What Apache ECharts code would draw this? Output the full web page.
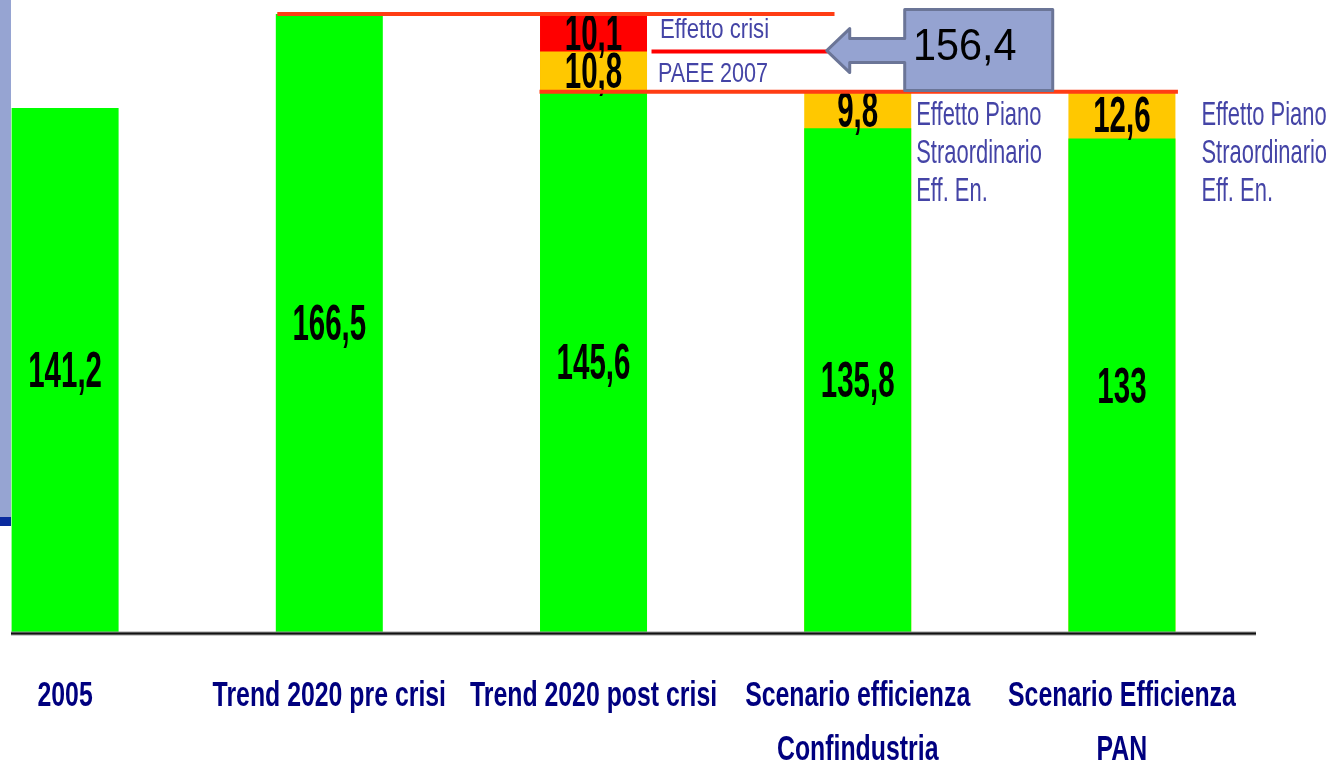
<!DOCTYPE html>
<html>
<head>
<meta charset="utf-8">
<title>Consumi energetici 2020 – scenari</title>
<script src="https://cdn.jsdelivr.net/npm/echarts@6/dist/echarts.min.js"></script>
<style>
  html, body { margin: 0; padding: 0; background: #ffffff; }
  #chart { width: 1331px; height: 765px; }
</style>
</head>
<body>
<div id="chart"></div>
<script>
// ---- data ----
const categories = [
  '2005',
  'Trend 2020 pre crisi',
  'Trend 2020 post crisi',
  'Scenario efficienza\nConfindustria',
  'Scenario Efficienza\nPAN'
];
const baseValues   = [141.2, 166.5, 145.6, 135.8, 133];
const savingValues = [null, null, 10.8, 9.8, 12.6];
const crisisValues = [null, null, 10.1, null, null];
const guideValues  = [166.5, 156.4, 145.6];
const calloutValue = 156.4;
const noteTexts = [
  'Effetto crisi',
  'PAEE 2007',
  'Effetto Piano\nStraordinario\nEff. En.',
  'Effetto Piano\nStraordinario\nEff. En.'
];

// ---- drawing ----
const FONT = '"Liberation Sans", Arial, Helvetica, sans-serif';
const BAR_W = 107;
const fmt = v => String(v).replace('.', ',');

// running totals: each layer is drawn as a full-height bar behind the previous one
const layerTotals = [];
(function () {
  let acc = baseValues.slice();
  layerTotals.push(acc.slice());
  [savingValues, crisisValues].forEach(arr => {
    acc = acc.map((a, i) => a + (arr[i] || 0));
    layerTotals.push(acc.map((a, i) => (arr[i] == null ? '-' : a)));
  });
})();
const asPoints = arr => arr.map((v, i) => [i, v]);

// stacked segments: [category, base, value]
const segments = [];
categories.forEach((c, i) => {
  let base = 0;
  [baseValues, savingValues, crisisValues].forEach(arr => {
    const v = arr[i];
    if (v != null) { segments.push([i, base, v]); base += v; }
  });
});

// note anchors: [category, y value]
const noteData = [
  [2, baseValues[2] + savingValues[2] + crisisValues[2] / 2],
  [2, baseValues[2] + savingValues[2] / 2],
  [3, baseValues[3] + savingValues[3]],
  [4, baseValues[4] + savingValues[4]]
];
const noteLayout = [
  { dx: 13, dy: -2, size: 27, scaleX: 0.82, valign: 'middle', lh: 30 },
  { dx: 11, dy: 3,  size: 27, scaleX: 0.80, valign: 'middle', lh: 30 },
  { dx: 5,  dy: 5,  size: 33, scaleX: 0.665, valign: 'top', lh: 38 },
  { dx: 26, dy: 5,  size: 33, scaleX: 0.665, valign: 'top', lh: 38 }
];

// horizontal reference lines (offsets in px from category centres)
const guideLayout = [
  { from: [1, -52], to: [2, 241], color: '#FF3D14', w: 4 },
  { from: [2, 58],  to: [3, -30], color: '#FF0000', w: 4 },
  { from: [2, -54], to: [4, 56],  color: '#FF3D14', w: 4 }
];

const chart = echarts.init(document.getElementById('chart'), null, { renderer: 'canvas' });

const barBase = { type: 'bar', barWidth: BAR_W, barGap: '-100%', silent: true };

const option = {
  animation: false,
  backgroundColor: '#ffffff',
  grid: { left: 0, right: 77, top: 1, bottom: 132, containLabel: false },
  // categories are placed at integer positions 0..4
  xAxis: {
    type: 'value',
    min: -0.2464,
    max: 4.4999,
    show: false,
    splitLine: { show: false }
  },
  yAxis: {
    type: 'value',
    min: 0,
    max: 170,
    show: false,
    splitLine: { show: false }
  },
  graphic: [
    { type: 'rect', left: 0, top: 0, shape: { x: 0, y: 0, width: 11, height: 517 }, style: { fill: '#96A4D2' }, z: 1 },
    { type: 'rect', left: 0, top: 517, shape: { x: 0, y: 0, width: 11, height: 9 }, style: { fill: '#0A2A9E' }, z: 1 },
    { type: 'line', shape: { x1: 11, y1: 633.5, x2: 1256, y2: 633.5 }, style: { stroke: '#9a9a9a', lineWidth: 4 }, z: 5 },
    { type: 'line', shape: { x1: 11, y1: 633.5, x2: 1256, y2: 633.5 }, style: { stroke: '#111111', lineWidth: 2 }, z: 6 }
  ],
  series: [
    Object.assign({ name: 'Effetto crisi', data: asPoints(layerTotals[2]), itemStyle: { color: '#FF0000' }, z: 2 }, barBase),
    Object.assign({ name: 'Risparmio', data: asPoints(layerTotals[1]), itemStyle: { color: '#FFC800' }, z: 3 }, barBase),
    Object.assign({ name: 'Consumi', data: asPoints(layerTotals[0]), itemStyle: { color: '#00FF00' }, z: 4 }, barBase),
    // value labels inside each segment
    {
      type: 'custom', z: 10, clip: false, silent: true,
      data: segments, encode: { x: 0, y: 1 },
      renderItem: (params, api) => {
        const i = api.value(0), b = api.value(1), v = api.value(2);
        const p = api.coord([i, b + v / 2]);
        return {
          type: 'text', x: p[0], y: p[1] + 3, scaleX: 0.59,
          style: { text: fmt(v), font: 'bold 50px ' + FONT, fill: '#000000', align: 'center', verticalAlign: 'middle' }
        };
      }
    },
    // reference lines
    {
      type: 'custom', z: 12, clip: false, silent: true,
      data: guideValues.map(v => [0, v]), encode: { x: 0, y: 1 },
      renderItem: (params, api) => {
        const L = guideLayout[params.dataIndex];
        const v = api.value(1);
        const a = api.coord([L.from[0], v]);
        const b = api.coord([L.to[0], v]);
        return {
          type: 'line',
          shape: { x1: a[0] + L.from[1], y1: a[1], x2: b[0] + L.to[1], y2: b[1] },
          style: { stroke: L.color, lineWidth: L.w }
        };
      }
    },
    // side notes
    {
      type: 'custom', z: 11, clip: false, silent: true,
      data: noteData, encode: { x: 0, y: 1 },
      renderItem: (params, api) => {
        const L = noteLayout[params.dataIndex];
        const p = api.coord([api.value(0), api.value(1)]);
        return {
          type: 'text', x: p[0] + BAR_W / 2 + L.dx, y: p[1] + L.dy, scaleX: L.scaleX,
          style: {
            text: noteTexts[params.dataIndex], font: L.size + 'px ' + FONT, fill: '#4444A6',
            align: 'left', verticalAlign: L.valign, lineHeight: L.lh
          }
        };
      }
    },
    // category labels under the baseline
    {
      type: 'custom', z: 11, clip: false, silent: true,
      data: categories.map((c, i) => [i, 0]), encode: { x: 0, y: 1 },
      renderItem: (params, api) => {
        const i = api.value(0);
        const p = api.coord([i, 0]);
        return {
          type: 'text', x: p[0], y: p[1] + 36, scaleX: 0.71,
          style: {
            text: categories[i], font: 'bold 35px ' + FONT, fill: '#00007F',
            align: 'center', verticalAlign: 'top', lineHeight: 54
          }
        };
      }
    },
    // callout arrow pointing at the 156,4 level
    {
      type: 'custom', z: 15, clip: false, silent: true,
      data: [[3, calloutValue]], encode: { x: 0, y: 1 },
      renderItem: (params, api) => {
        const p = api.coord([api.value(0), api.value(1)]);
        const tx = p[0] - 31, ty = p[1] - 1;
        const pts = [[78, -41], [226, -41], [226, 40], [78, 40], [78, 12], [23, 12], [23, 22],
                     [0, 0], [23, -22], [23, -12], [78, -12]].map(q => [tx + q[0], ty + q[1]]);
        return {
          type: 'group',
          children: [
            { type: 'polygon', shape: { points: pts },
              style: { fill: '#95A3D1', stroke: '#6B7597', lineWidth: 3, lineJoin: 'round' } },
            { type: 'text', x: tx + 138, y: ty - 3, scaleX: 0.94,
              style: { text: fmt(api.value(1)), font: '44px ' + FONT, fill: '#000000', align: 'center', verticalAlign: 'middle' } }
          ]
        };
      }
    }
  ]
};

chart.setOption(option);
</script>
</body>
</html>
